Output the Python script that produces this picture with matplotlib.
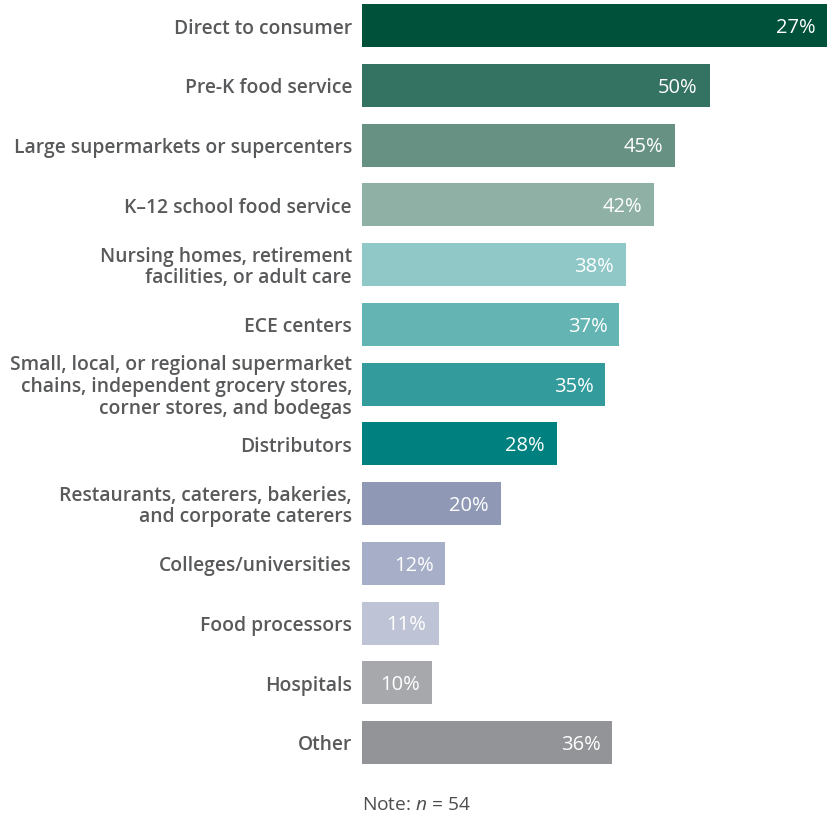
import matplotlib
matplotlib.use("Agg")
import matplotlib.pyplot as plt

categories = [
    "Direct to consumer",
    "Pre-K food service",
    "Large supermarkets or supercenters",
    "K\u201312 school food service",
    "Nursing homes, retirement\nfacilities, or adult care",
    "ECE centers",
    "Small, local, or regional supermarket\nchains, independent grocery stores,\ncorner stores, and bodegas",
    "Distributors",
    "Restaurants, caterers, bakeries,\nand corporate caterers",
    "Colleges/universities",
    "Food processors",
    "Hospitals",
    "Other",
]
# bar lengths as drawn; the first bar's printed label differs from its length
values = [67, 50, 45, 42, 38, 37, 35, 28, 20, 12, 11, 10, 36]
value_labels = ["27%", "50%", "45%", "42%", "38%", "37%", "35%", "28%",
                "20%", "12%", "11%", "10%", "36%"]
colors = ["#00513A", "#347262", "#679283", "#8EB0A5", "#90C8C8", "#64B4B4",
          "#339B9B", "#00817F", "#8F99B5", "#A7AEC8", "#BEC3D6", "#A7A8AB",
          "#929497"]

plt.rcParams["font.family"] = ["Open Sans", "DejaVu Sans"]
plt.rcParams["mathtext.fontset"] = "custom"
plt.rcParams["mathtext.it"] = "Open Sans:italic"
plt.rcParams["mathtext.rm"] = "Open Sans"

W, H = 828, 819
fig = plt.figure(figsize=(W / 100, H / 100), dpi=100)

step = 59.75
top_px = 25.5 - step / 2
ax_h = step * len(categories)
ax = fig.add_axes([362 / W, (H - (top_px + ax_h)) / H, 466 / W, ax_h / H])

y = list(range(len(categories)))
ax.barh(y, values, height=43 / step, color=colors, edgecolor="none")
ax.set_xlim(0, 67)
ax.set_ylim(len(categories) - 0.5, -0.5)
ax.axis("off")

text_col = "#58595B"
for yi, cat, v, lab in zip(y, categories, values, value_labels):
    ax.annotate(cat, xy=(0, yi), xytext=(-10, -3), textcoords="offset pixels",
                ha="right", va="center", fontsize=13.9, color=text_col,
                fontweight="semibold", linespacing=1.13, annotation_clip=False)
    ax.annotate(lab, xy=(v, yi), xytext=(-12, -2.5), textcoords="offset pixels",
                ha="right", va="center", fontsize=14.5, color="white",
                fontweight="medium", annotation_clip=False)

fig.text(362 / W, (H - 805) / H, r"Note: $n$ = 54", ha="left", va="center",
         fontsize=13.8, color="#4D4D4F")

fig.savefig("out.png", dpi=100, facecolor="white")
